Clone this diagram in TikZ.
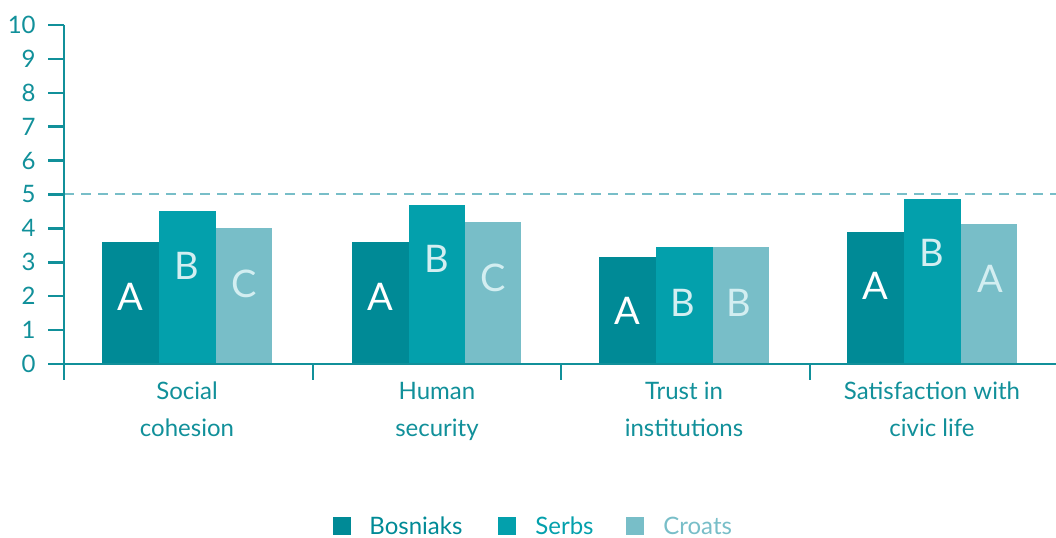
\documentclass[tikz,border=0pt]{standalone}
\usepackage{fontspec}
\setmainfont{Lato}
\definecolor{bosniakcol}{HTML}{008A96}
\definecolor{serbcol}{HTML}{03A0AC}
\definecolor{croatcol}{HTML}{78BEC8}
\definecolor{axiscol}{HTML}{11909A}
\definecolor{lettercol}{HTML}{D3EEF1}
\begin{document}
\begin{tikzpicture}[x=0.5pt,y=16.95pt]
          \tikzstyle{axis}=[draw=axiscol,line width=1.25pt]
          \tikzstyle{refline}=[draw=croatcol,line width=1pt,dash pattern=on 5pt off 3.5pt]
          \tikzstyle{bosniak}=[fill=bosniakcol]
          \tikzstyle{serb}=[fill=serbcol]
          \tikzstyle{croat}=[fill=croatcol]
          \tikzstyle{ylab}=[anchor=east,inner sep=0pt,text=axiscol,font=\fontsize{12}{12}\selectfont]
          \tikzstyle{catlab}=[anchor=base,inner sep=0pt,align=center,text=axiscol,font=\fontsize{12}{18.5}\selectfont]
          \tikzstyle{grade}=[inner sep=0pt,font=\fontsize{19}{19}\selectfont]
          \tikzstyle{legbox}=[minimum size=9pt,inner sep=0pt]
          \tikzstyle{legtext}=[anchor=base west,inner sep=0pt,font=\fontsize{12}{12}\selectfont]
          \useasboundingbox (0,-5.133) rectangle (1056,10.737);
          % reference line
          \path[refline] (64,5) -- (1056,5);
          % bars
          \begin{scope}
             \path[bosniak] (102,0) rectangle (159,3.60);
             \path[serb] (159,0) rectangle (216,4.52);
             \path[croat] (216,0) rectangle (272,4.01);
             \path[bosniak] (352,0) rectangle (409,3.60);
             \path[serb] (409,0) rectangle (465,4.69);
             \path[croat] (465,0) rectangle (521,4.19);
             \path[bosniak] (599,0) rectangle (656,3.16);
             \path[serb] (656,0) rectangle (713,3.46);
             \path[croat] (713,0) rectangle (769,3.46);
             \path[bosniak] (847,0) rectangle (904,3.89);
             \path[serb] (904,0) rectangle (961,4.88);
             \path[croat] (961,0) rectangle (1017,4.13);
          \end{scope}
          % letters in the bars
          \node [grade,text=white] (g1a) at (130,1.99) {A};
          \node [grade,text=lettercol] (g1b) at (187,2.90) {B};
          \node [grade,text=lettercol] (g1c) at (244,2.37) {C};
          \node [grade,text=white] (g2a) at (380,1.99) {A};
          \node [grade,text=lettercol] (g2b) at (437,3.10) {B};
          \node [grade,text=lettercol] (g2c) at (493,2.55) {C};
          \node [grade,text=white] (g3a) at (627,1.57) {A};
          \node [grade,text=lettercol] (g3b) at (683,1.81) {B};
          \node [grade,text=lettercol] (g3c) at (739,1.81) {B};
          \node [grade,text=white] (g4a) at (875,2.30) {A};
          \node [grade,text=lettercol] (g4b) at (932,3.27) {B};
          \node [grade,text=lettercol] (g4c) at (990,2.51) {A};
          % axes
          \path[axis] (64,10) -- (64,-0.47);
          \path[axis] (48,0) -- (1056,0);
          \path[axis] (48,10) -- (64,10);
          \path[axis] (48,9) -- (64,9);
          \path[axis] (48,8) -- (64,8);
          \path[axis] (48,7) -- (64,7);
          \path[axis] (48,6) -- (64,6);
          \path[axis] (48,5) -- (64,5);
          \path[axis] (48,4) -- (64,4);
          \path[axis] (48,3) -- (64,3);
          \path[axis] (48,2) -- (64,2);
          \path[axis] (48,1) -- (64,1);
          \path[axis] (313,0) -- (313,-0.47);
          \path[axis] (561,0) -- (561,-0.47);
          \path[axis] (810,0) -- (810,-0.47);
          \node [ylab] (y0) at (36,0) {0};
          \node [ylab] (y1) at (36,1) {1};
          \node [ylab] (y2) at (36,2) {2};
          \node [ylab] (y3) at (36,3) {3};
          \node [ylab] (y4) at (36,4) {4};
          \node [ylab] (y5) at (36,5) {5};
          \node [ylab] (y6) at (36,6) {6};
          \node [ylab] (y7) at (36,7) {7};
          \node [ylab] (y8) at (36,8) {8};
          \node [ylab] (y9) at (36,9) {9};
          \node [ylab] (y10) at (36,10) {10};
          % categories
          \node [catlab] (social) at (187,-2.15) {Social\\cohesion};
          \node [catlab] (human) at (437,-2.15) {Human\\security};
          \node [catlab] (trust) at (684,-2.15) {Trust in\\institutions};
          \node [catlab] (civic) at (932,-2.15) {Satisfaction with\\civic life};
          % legend
          \node [legbox,fill=bosniakcol] (lbos) at (342,-4.79) {};
          \node [legtext,text=bosniakcol] (tbos) at (369,-5.02) {Bosniaks};
          \node [legbox,fill=serbcol] (lser) at (507,-4.79) {};
          \node [legtext,text=serbcol] (tser) at (535,-5.02) {Serbs};
          \node [legbox,fill=croatcol] (lcro) at (635,-4.79) {};
          \node [legtext,text=croatcol] (tcro) at (663,-5.02) {Croats};
        \end{tikzpicture}
\end{document}
